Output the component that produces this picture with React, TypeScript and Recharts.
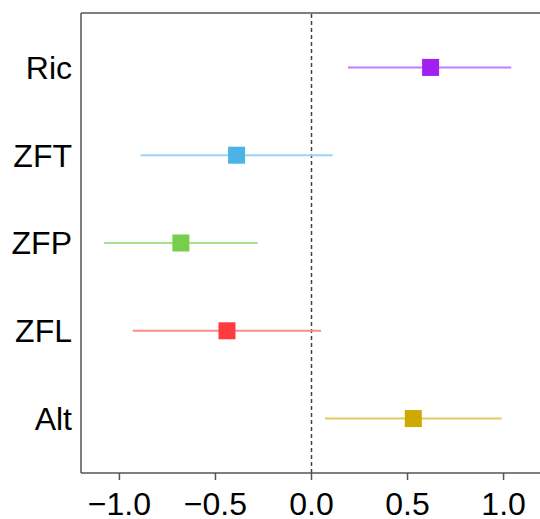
import { ReferenceLine, Scatter, ScatterChart, XAxis, YAxis, Cell } from 'recharts';

const predictors = ['Ric', 'ZFT', 'ZFP', 'ZFL', 'Alt'];
const estimates = [0.62, -0.39, -0.68, -0.44, 0.53];
const lower = [0.19, -0.89, -1.08, -0.93, 0.07];
const upper = [1.04, 0.11, -0.28, 0.05, 0.99];
const xTicks = [-1.0, -0.5, 0.0, 0.5, 1.0];

const POINT_COLORS = ['#a020f0', '#4db3e6', '#77ce4a', '#ff3b3f', '#ccaa00'];
const LINE_COLORS = ['#c77df7', '#9bd4f3', '#a9e092', '#ff8a8a', '#e0cc66'];

const AXIS = '#555555';
const FONT = '"Liberation Sans", Arial, Helvetica, sans-serif';

const rows = predictors.map((name, i) => ({
  name,
  x: estimates[i],
  y: predictors.length - i,
  lo: lower[i],
  hi: upper[i],
}));

const Square = (props: any) => {
  const { cx, cy, fill } = props;
  if (cx == null || cy == null) return null;
  return <rect x={cx - 8.5} y={cy - 8.5} width={17} height={17} fill={fill} />;
};

export default function App() {
  return (
    <div
      style={{
        position: 'fixed',
        left: 0,
        top: 0,
        width: 540,
        height: 519,
        overflow: 'hidden',
        background: '#fff',
      }}
    >
      <ScatterChart
        width={560}
        height={519}
        margin={{ top: 0, right: 18, bottom: 0, left: 0 }}
        style={{ fontFamily: FONT }}
      >
        <XAxis
          type='number'
          dataKey='x'
          domain={[-1.2, 1.2]}
          ticks={xTicks}
          tickFormatter={(v: number) => (v < 0 ? `\u2212${Math.abs(v).toFixed(1)}` : v.toFixed(1))}
          height={46}
          tickSize={7}
          tickMargin={12}
          axisLine={{ stroke: AXIS, strokeWidth: 1.5 }}
          tickLine={{ stroke: AXIS, strokeWidth: 1.5 }}
          tick={{ fill: '#000', fontSize: 32 }}
          allowDataOverflow
        />
        <XAxis
          xAxisId='top'
          orientation='top'
          type='number'
          domain={[-1.2, 1.2]}
          ticks={xTicks}
          tickFormatter={() => ''}
          height={13}
          tickSize={8}
          axisLine={{ stroke: AXIS, strokeWidth: 1.5 }}
          tickLine={{ stroke: AXIS, strokeWidth: 1.5 }}
          allowDataOverflow
        />
        <YAxis
          type='number'
          dataKey='y'
          domain={[0.38, 5.62]}
          ticks={[1, 2, 3, 4, 5]}
          tickFormatter={(v: number) => predictors[predictors.length - v]}
          width={81}
          tickSize={0}
          tickMargin={9}
          tickLine={false}
          axisLine={{ stroke: AXIS, strokeWidth: 1.5 }}
          tick={{ fill: '#000', fontSize: 32 }}
          allowDataOverflow
        />
        <ReferenceLine x={0} stroke='#444' strokeWidth={1.5} strokeDasharray='4 3' />
        {rows.map((r, i) => (
          <ReferenceLine
            key={r.name}
            segment={[
              { x: r.lo, y: r.y },
              { x: r.hi, y: r.y },
            ]}
            stroke={LINE_COLORS[i]}
            strokeWidth={2}
          />
        ))}
        <Scatter data={rows} shape={<Square />} isAnimationActive={false}>
          {rows.map((r, i) => (
            <Cell key={r.name} fill={POINT_COLORS[i]} />
          ))}
        </Scatter>
      </ScatterChart>
    </div>
  );
}
